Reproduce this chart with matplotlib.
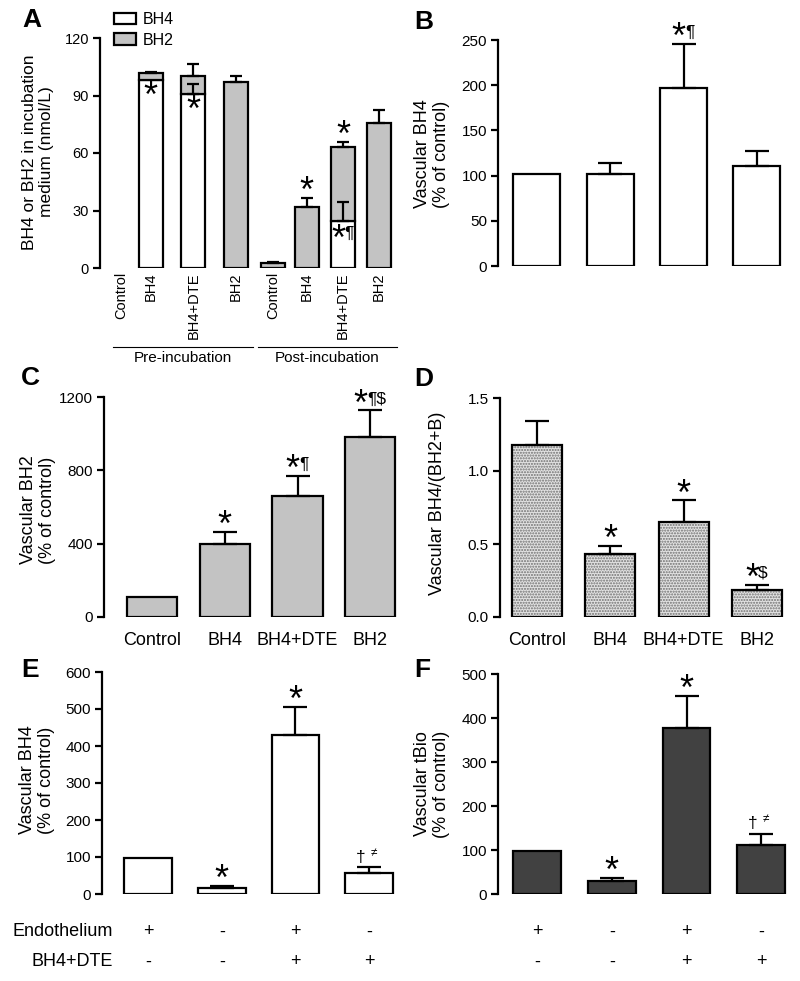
import matplotlib
matplotlib.use("Agg")
import matplotlib.pyplot as plt
from matplotlib.patches import Patch
from matplotlib.transforms import blended_transform_factory

plt.rcParams['font.family'] = ['Liberation Sans', 'DejaVu Sans']

W, H = 800, 981

# ---- data ----
labels_A = ['Control', 'BH4', 'BH4+DTE', 'BH2', 'Control', 'BH4', 'BH4+DTE', 'BH2']
bh4_A = [0, 98.0, 90.6, 0, 0, 0, 24.7, 0]
bh2_A = [0, 3.7, 9.6, 97.2, 2.5, 32.0, 38.4, 75.5]
bh4_err_A = [0, 0, 5.2, 0, 0, 0, 9.6, 0]
tot_err_A = [0, 0.8, 6.1, 3.1, 0.5, 4.7, 2.5, 6.9]

groups = ['Control', 'BH4', 'BH4+DTE', 'BH2']
bh4_B = [102, 102, 196.5, 111]
bh4_err_B = [0, 11.6, 49, 16.5]
bh2_C = [109, 400, 662, 980]
bh2_err_C = [0, 64, 109, 147]
ratio_D = [1.175, 0.429, 0.648, 0.187]
ratio_err_D = [0.167, 0.059, 0.151, 0.034]
bh4_E = [97, 15, 431, 58]
bh4_err_E = [0, 7, 74, 14]
tbio_F = [98, 30, 378, 111]
tbio_err_F = [0, 6, 73, 26]
endothelium = ['+', '-', '+', '-']
bh4_dte = ['-', '-', '+', '+']

LIGHT = '#c3c3c3'
DARK = '#414141'

fig = plt.figure(figsize=(8, 9.81), dpi=100)


def panel(left, right, top, bottom, ymax, ticks, xlim):
    ax = fig.add_axes([left / W, 1 - bottom / H, (right - left) / W, (bottom - top) / H])
    ax.set_ylim(0, ymax)
    ax.set_xlim(*xlim)
    ax.set_yticks(ticks)
    for s in ['top', 'right', 'bottom']:
        ax.spines[s].set_visible(False)
    ax.spines['left'].set_linewidth(1.6)
    ax.tick_params(axis='y', length=5, width=1.6, labelsize=11, pad=3)
    ax.tick_params(axis='x', length=0)
    ax.set_xticks([])
    ax.patch.set_alpha(0)
    return ax


def bars(ax, x, vals, err, color, width, capsize=8.5, bottom=None, hatch=None):
    idx = [i for i, v in enumerate(vals) if v > 0]
    xs = [x[i] for i in idx]
    vs = [vals[i] for i in idx]
    bt = None if bottom is None else [bottom[i] for i in idx]
    if hatch:
        ax.bar(xs, vs, width, bottom=bt, color=color, edgecolor='#707070',
               hatch=hatch, linewidth=0, zorder=2)
        ax.bar(xs, vs, width, bottom=bt, fill=False, edgecolor='black', linewidth=1.6, zorder=3)
    else:
        ax.bar(xs, vs, width, bottom=bt, color=color, edgecolor='black', linewidth=1.6, zorder=2)
    top = [v + (0 if bt is None else b) for v, b in zip(vs, bt or [0] * len(vs))]
    e = [err[i] for i in idx]
    ex = [a for a, b in zip(xs, e) if b > 0]
    ey = [a for a, b in zip(top, e) if b > 0]
    ee = [b for b in e if b > 0]
    ax.errorbar(ex, ey, yerr=[[0] * len(ee), ee], fmt='none', ecolor='black',
                elinewidth=1.6, capsize=capsize, capthick=1.6, zorder=4)


def star(ax, x, y, tail='', dy=-3):
    n = len(tail)
    dx = -3.5 * n
    ax.annotate('*', (x, y), xytext=(dx, dy), textcoords='offset points',
                ha='center', va='baseline', fontsize=26, zorder=5)
    if tail:
        ax.annotate(tail, (x, y), xytext=(dx + 4.5, dy + 8), textcoords='offset points',
                    ha='left', va='baseline', fontsize=12.5, zorder=5)


def dagger(ax, x, y):
    ax.annotate('\u2020', (x, y), xytext=(-6, 4), textcoords='offset points',
                ha='center', va='baseline', fontsize=12.5)
    ax.annotate('\u2260', (x, y), xytext=(3, 8), textcoords='offset points',
                ha='center', va='baseline', fontsize=8.5)


# ---- Panel A ----
pos_A = [0.0, 0.7, 1.7, 2.7, 3.57, 4.37, 5.22, 6.07]
axA = panel(100, 400, 38, 268, 120, [0, 30, 60, 90, 120], (-0.494, 6.56))
axA.tick_params(axis='y', labelsize=10.5)
bars(axA, pos_A, bh4_A, bh4_err_A, 'white', 0.565, capsize=4.5)
bars(axA, pos_A, bh2_A, tot_err_A, LIGHT, 0.565, capsize=4.5, bottom=bh4_A)
axA.set_xticks(pos_A)
axA.set_xticklabels(labels_A, rotation=90, fontsize=10.5, va='top')
axA.tick_params(axis='x', length=0, pad=3)
star(axA, pos_A[1], 94, dy=-14)
star(axA, pos_A[2], 86.8, dy=-14)
star(axA, pos_A[5], bh2_A[5] + tot_err_A[5])
star(axA, pos_A[6], bh4_A[6] + bh2_A[6] + tot_err_A[6])
star(axA, pos_A[6], 19.8, tail='\u00b6', dy=-14)
tr = blended_transform_factory(axA.transData, fig.transFigure)
for x0, x1, name in [(-0.19, 3.1, 'Pre-incubation'), (3.22, 6.49, 'Post-incubation')]:
    axA.plot([x0, x1], [1 - 347 / H] * 2, color='black', lw=0.8, transform=tr, clip_on=False)
    axA.text((x0 + x1) / 2, 1 - 358 / H, name, transform=tr, ha='center', va='center', fontsize=11)
fig.legend([Patch(facecolor='white', edgecolor='black', linewidth=1.6),
            Patch(facecolor=LIGHT, edgecolor='black', linewidth=1.6)],
           ['BH4', 'BH2'], loc='upper left', bbox_to_anchor=(114 / W, 1 - 12 / H),
           frameon=False, fontsize=11.5, handlelength=1.4, handleheight=0.75,
           labelspacing=0.35, handletextpad=0.4, borderaxespad=0, borderpad=0)
fig.text(38 / W, 1 - 152 / H, 'BH4 or BH2 in incubation\nmedium (nmol/L)', rotation=90,
         ha='center', va='center', fontsize=12.5, multialignment='center')

# ---- Panel B ----
xs = list(range(4))
axB = panel(498, 795, 40, 266, 250, [0, 50, 100, 150, 200, 250], (-0.53, 3.52))
bars(axB, xs, bh4_B, bh4_err_B, 'white', 0.64)
star(axB, 2, bh4_B[2] + bh4_err_B[2], tail='\u00b6')
fig.text(432 / W, 1 - 154 / H, 'Vascular BH4\n(% of control)', rotation=90,
         ha='center', va='center', fontsize=13, multialignment='center')

# ---- Panel C ----
axC = panel(104, 398, 397, 617, 1200, [0, 400, 800, 1200], (-0.66, 3.38))
bars(axC, xs, bh2_C, bh2_err_C, LIGHT, 0.69)
axC.set_xticks(xs)
axC.set_xticklabels(groups, fontsize=13)
axC.tick_params(axis='x', length=0, pad=11)
star(axC, 1, bh2_C[1] + bh2_err_C[1])
star(axC, 2, bh2_C[2] + bh2_err_C[2], tail='\u00b6')
star(axC, 3, bh2_C[3] + bh2_err_C[3], tail='\u00b6$')
fig.text(38 / W, 1 - 510 / H, 'Vascular BH2\n(% of control)', rotation=90,
         ha='center', va='center', fontsize=13, multialignment='center')

# ---- Panel D ----
axD = panel(500, 795, 398, 617, 1.5, [0.0, 0.5, 1.0, 1.5], (-0.505, 3.52))
axD.set_yticklabels(['0.0', '0.5', '1.0', '1.5'])
bars(axD, xs, ratio_D, ratio_err_D, '#e2e2e2', 0.68, hatch='......')
axD.set_xticks(xs)
axD.set_xticklabels(groups, fontsize=13)
axD.tick_params(axis='x', length=0, pad=11)
star(axD, 1, ratio_D[1] + ratio_err_D[1])
star(axD, 2, ratio_D[2] + ratio_err_D[2])
star(axD, 3, ratio_D[3] + ratio_err_D[3], tail='$')
fig.text(438 / W, 1 - 503 / H, 'Vascular BH4/(BH2+B)', rotation=90,
         ha='center', va='center', fontsize=13)

# ---- Panel E ----
axE = panel(102, 398, 672, 894, 600, [0, 100, 200, 300, 400, 500, 600], (-0.624, 3.39))
bars(axE, xs, bh4_E, bh4_err_E, 'white', 0.65)
star(axE, 1, bh4_E[1] + bh4_err_E[1])
star(axE, 2, bh4_E[2] + bh4_err_E[2])
dagger(axE, 3, bh4_E[3] + bh4_err_E[3])
fig.text(37 / W, 1 - 780 / H, 'Vascular BH4\n(% of control)', rotation=90,
         ha='center', va='center', fontsize=13, multialignment='center')

# ---- Panel F ----
axF = panel(498, 795, 674, 894, 500, [0, 100, 200, 300, 400, 500], (-0.52, 3.45))
bars(axF, xs, tbio_F, tbio_err_F, DARK, 0.64)
star(axF, 1, tbio_F[1] + tbio_err_F[1])
star(axF, 2, tbio_F[2] + tbio_err_F[2])
dagger(axF, 3, tbio_F[3] + tbio_err_F[3])
fig.text(432 / W, 1 - 784 / H, 'Vascular tBio\n(% of control)', rotation=90,
         ha='center', va='center', fontsize=13, multialignment='center')

# condition rows under E and F
for ax in (axE, axF):
    for i in xs:
        ax.annotate(endothelium[i], (i, 1 - 932 / H), xycoords=('data', 'figure fraction'),
                    ha='center', va='center', fontsize=13)
        ax.annotate(bh4_dte[i], (i, 1 - 962 / H), xycoords=('data', 'figure fraction'),
                    ha='center', va='center', fontsize=13)
fig.text(113 / W, 1 - 932 / H, 'Endothelium', ha='right', va='center', fontsize=13)
fig.text(113 / W, 1 - 962 / H, 'BH4+DTE', ha='right', va='center', fontsize=13)

# panel letters
for letter, x, y in [('A', 22, 8), ('B', 414, 10), ('C', 21, 366), ('D', 414, 367),
                     ('E', 21, 658), ('F', 414, 658)]:
    fig.text(x / W, 1 - y / H, letter, ha='left', va='top', fontsize=19, fontweight='bold')

fig.savefig('out.png', dpi=100)
